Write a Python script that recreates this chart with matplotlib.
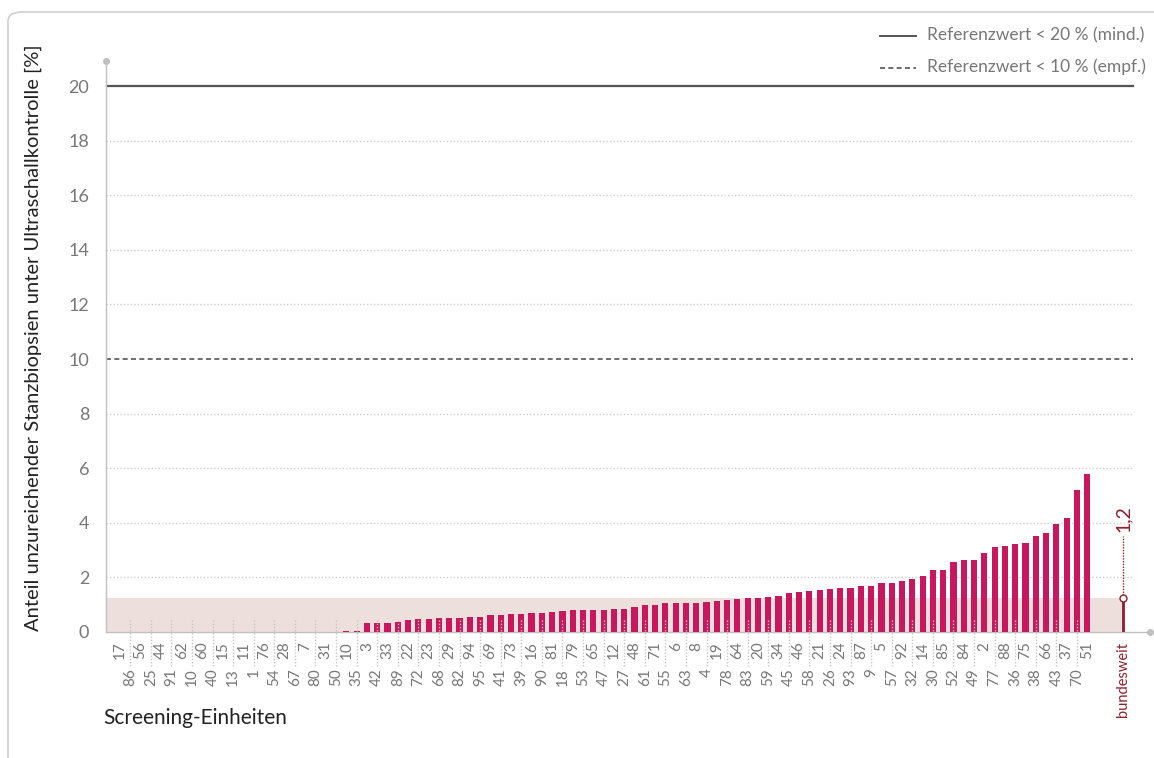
import numpy as np
import matplotlib
matplotlib.use('Agg')
import matplotlib.pyplot as plt
from matplotlib.patches import FancyBboxPatch, Rectangle
from matplotlib.lines import Line2D

plt.rcParams['font.family'] = ['Lato', 'DejaVu Sans']

# data
units = ['17', '86', '56', '25', '44', '91', '62', '10', '60', '40', '15', '13', '11', '1',
         '76', '54', '28', '67', '7', '80', '31', '50', '10', '35', '3', '42', '33', '89',
         '22', '72', '23', '68', '29', '82', '94', '95', '69', '41', '73', '39', '16', '90',
         '81', '18', '79', '53', '65', '47', '12', '27', '48', '61', '71', '55', '6', '63',
         '8', '4', '19', '78', '64', '83', '20', '59', '34', '45', '46', '58', '21', '26',
         '24', '93', '87', '9', '5', '57', '92', '32', '14', '30', '85', '52', '84', '49',
         '2', '77', '88', '36', '75', '38', '66', '43', '37', '70', '51']
values = [0] * 22 + [0.03, 0.03,
          0.34, 0.34, 0.34, 0.38, 0.45, 0.49, 0.49, 0.53, 0.53, 0.53, 0.56, 0.56,
          0.63, 0.63, 0.67, 0.67, 0.71, 0.71, 0.75, 0.78, 0.82, 0.82, 0.82, 0.82,
          0.86, 0.86, 0.93, 1.00, 1.00, 1.06, 1.06, 1.06, 1.06, 1.10, 1.14, 1.17,
          1.21, 1.25, 1.25, 1.28, 1.32, 1.43, 1.47, 1.50, 1.54, 1.58, 1.61, 1.61,
          1.68, 1.68, 1.79, 1.79, 1.87, 1.94, 2.05, 2.27, 2.27, 2.56, 2.64, 2.64,
          2.89, 3.11, 3.15, 3.22, 3.26, 3.52, 3.63, 3.96, 4.18, 5.20, 5.79]
bundesweit = 1.24
ref_min = 20
ref_empf = 10

BAR = '#c8175e'
DARKRED = '#8e1f2b'
GREY = '#777777'

W, H = 1154, 758
fig = plt.figure(figsize=(W / 100, H / 100), dpi=100)

def px(x, y):
    return x / W, 1 - y / H

# rounded frame around the chart
frame = FancyBboxPatch((8 / W, -0.1), 1.2, 1 - 12 / H + 0.1,
                       boxstyle='round,pad=0,rounding_size=0.012',
                       transform=fig.transFigure, fc='none', ec='#cfcfcf', lw=1.2)
fig.patches.append(frame)

ax = fig.add_axes([106 / W, 1 - 632 / H, (1150 - 106) / W, (632 - 61) / H])
n = len(values)
xs = np.arange(n)
xb = 97.5
ax.set_xlim(-1.36, 100.1)
ax.set_ylim(0, 20.92)

# national mean band
ax.add_patch(Rectangle((-1.36, 0), xb + 0.1 + 1.36, bundesweit, fc='#ede0dc', ec='none', zorder=0))

# grid lines
for g in range(2, 20, 2):
    if g == ref_empf:
        continue
    ax.plot([-1.36, 98.45], [g, g], color='#cccccc', lw=1, ls=(0, (1, 1.5)), zorder=1)
ax.plot([-1.36, 98.45], [ref_min, ref_min], color='#555555', lw=1.6, zorder=2)
ax.plot([-1.36, 98.45], [ref_empf, ref_empf], color='#555555', lw=1.2, ls=(0, (3, 2)), zorder=2)

ax.bar(xs, values, width=0.6, color=BAR, zorder=3)

# leader lines for the lower label row
trans = ax.get_xaxis_transform()
for i in xs[1::2]:
    ax.plot([i, i], [12 / 571, -34 / 571], transform=trans, color='#c4c4c4', lw=1,
            ls=(0, (1, 1.3)), clip_on=False, zorder=4)

# national value
ax.plot([xb, xb], [0, bundesweit], color=DARKRED, lw=2, zorder=5)
ax.plot([xb, xb], [bundesweit, 3.5], color=DARKRED, lw=1, ls=(0, (1, 1)), zorder=5)
ax.plot(xb, bundesweit, 'o', ms=5, mfc='white', mec=DARKRED, mew=1, zorder=6)
ax.text(xb, 3.65, f'{bundesweit:.1f}'.replace('.', ','), rotation=90, ha='center', va='bottom',
        color=DARKRED, fontsize=14)

# axes styling
for s in ['top', 'right']:
    ax.spines[s].set_visible(False)
for s in ['left', 'bottom']:
    ax.spines[s].set_color('#c0c0c0')
    ax.spines[s].set_linewidth(1)
ax.plot(0, 1, 'o', ms=4, color='#c0c0c0', transform=ax.transAxes, clip_on=False)
ax.plot(1, 0, 'o', ms=4, color='#c0c0c0', transform=ax.transAxes, clip_on=False)

ax.set_yticks(range(0, 21, 2))
ax.tick_params(axis='y', length=0, pad=12, labelsize=13, labelcolor=GREY)

major = list(xs[0::2]) + [xb]
major_lbl = units[0::2] + ['bundesweit']
ax.set_xticks(major, labels=major_lbl, rotation=90, fontsize=11)
ax.set_xticks(xs[1::2], labels=units[1::2], minor=True, rotation=90, fontsize=11)
ax.tick_params(axis='x', which='major', length=0, pad=7, labelcolor=GREY)
ax.tick_params(axis='x', which='minor', length=0, pad=26, labelcolor=GREY)
ax.get_xticklabels()[-1].set_color(DARKRED)
ax.get_xticklabels()[-1].set_fontsize(10.5)

fig.text(*px(33, 338), 'Anteil unzureichender Stanzbiopsien unter Ultraschallkontrolle [%]',
         rotation=90, ha='center', va='center', fontsize=14.5, color='#222222')
fig.text(*px(103, 718), 'Screening-Einheiten', ha='left', va='center', fontsize=15, color='#222222')

# legend
fig.add_artist(Line2D([880 / W, 916 / W], [1 - 36 / H] * 2, color='#555555', lw=1.4))
fig.add_artist(Line2D([880 / W, 916 / W], [1 - 68 / H] * 2, color='#555555', lw=1.2, ls=(0, (3, 2))))
fig.text(*px(927, 35), 'Referenzwert < 20 % (mind.)', ha='left', va='center', fontsize=12.5, color=GREY)
fig.text(*px(927, 67), 'Referenzwert < 10 % (empf.)', ha='left', va='center', fontsize=12.5, color=GREY)

fig.savefig('out.png', dpi=100)
